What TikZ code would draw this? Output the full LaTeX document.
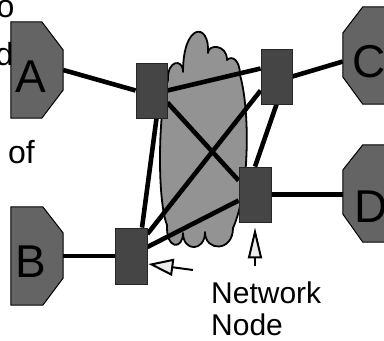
\documentclass[tikz,border=0pt]{standalone}
\usepackage{fontspec}
\setmainfont{Liberation Sans}
\usetikzlibrary{calc,arrows.meta}

\definecolor{hostgray}{HTML}{646464}
\definecolor{nodegray}{HTML}{454545}
\definecolor{cloudgray}{HTML}{939393}
\definecolor{headfill}{HTML}{ECECEC}

\pgfdeclarelayer{cloudlayer}
\pgfdeclarelayer{linklayer}
\pgfsetlayers{cloudlayer,linklayer,main}

\tikzset{
  hostbox/.style={rectangle, draw=none, inner sep=0pt, minimum width=52pt},
  hostshape/.style={fill=hostgray, draw=black, line width=1pt, line join=miter},
  hostletter/.style={inner sep=0pt, font=\fontsize{46}{46}\selectfont},
  netnode/.style={rectangle, fill=nodegray, draw=black!85, line width=0.8pt,
    minimum width=31pt, minimum height=55pt, inner sep=0pt},
  link/.style={line width=4.6pt},
  pointer/.style={line width=2pt, draw=black},
  frag/.style={inner sep=0pt, anchor=base west, font=\fontsize{32}{32}\selectfont},
  caption/.style={inner sep=0pt, anchor=base west, font=\fontsize{30}{32}\selectfont},
}

\begin{document}
\begin{tikzpicture}[x=1pt, y=-1pt]
\useasboundingbox (0,0) rectangle (384,341);
\clip (0,0) rectangle (384,341);

% cloud behind the network
\begin{pgfonlayer}{cloudlayer}
\filldraw[fill=cloudgray, draw=black, line width=1.8pt, line join=round]
  (168,80) .. controls (167,60) and (183,58) .. (183,72)
  .. controls (183,22) and (210,22) .. (208,53)
  .. controls (208,44) and (227,44) .. (227,60)
  .. controls (232,55) and (240,60) .. (240,75)
  .. controls (250,110) and (250,190) .. (233,228)
  .. controls (233,252) and (205,252) .. (205,232)
  .. controls (205,252) and (183,252) .. (183,233)
  .. controls (183,250) and (166,250) .. (167,225)
  .. controls (157,200) and (158,110) .. (168,80) -- cycle;
\end{pgfonlayer}

% hosts
\node[hostbox, minimum height=96pt] (A) at (37,70) {};
\node[hostbox, minimum height=98pt] (B) at (37,256) {};
\node[hostbox, minimum height=97pt] (C) at (369,55.5) {};
\node[hostbox, minimum height=97pt] (D) at (369,193.5) {};

\filldraw[hostshape] (A.north west) -- ($(A.north west)+(31,0)$) -- ($(A.east)+(0,-20)$)
  -- ($(A.east)+(0,20)$) -- ($(A.south west)+(31,0)$) -- (A.south west) -- cycle;
\filldraw[hostshape] (B.north west) -- ($(B.north west)+(32,0)$) -- ($(B.east)+(0,-23)$)
  -- ($(B.east)+(0,22)$) -- ($(B.south west)+(32,0)$) -- (B.south west) -- cycle;
\filldraw[hostshape] (C.north east) -- ($(C.north west)+(20,0)$) -- ($(C.west)+(0,-22.5)$)
  -- ($(C.west)+(0,21.5)$) -- ($(C.south west)+(20,0)$) -- (C.south east) -- cycle;
\filldraw[hostshape] (D.north east) -- ($(D.north west)+(20,0)$) -- ($(D.west)+(0,-23.5)$)
  -- ($(D.west)+(0,20.5)$) -- ($(D.south west)+(20,0)$) -- (D.south east) -- cycle;

\node[hostletter] (Aname) at ($(A)+(-6,6.5)$) {A};
\node[hostletter] (Bname) at ($(B)+(-6,5.5)$) {B};
\node[hostletter] (Cname) at ($(C)+(0,6)$) {C};
\node[hostletter] (Dname) at ($(D)+(2,13)$) {D};

% network nodes
\node[netnode] (N1) at (151.5,90.5) {};
\node[netnode] (N2) at (276.5,76.5) {};
\node[netnode, minimum width=32pt] (N3) at (255,194.5) {};
\node[netnode, minimum width=32pt, minimum height=56pt] (N4) at (131,256) {};

% links
\begin{pgfonlayer}{linklayer}
\draw[link] (A.east) -- (N1.west);
\draw[link] (N1.east) -- ($(N2.west)+(0,-8)$);
\draw[link] (N2.east) -- ($(C.west)+(0,6)$);
\draw[link] ($(N1.east)+(0,12)$) -- ($(N3.west)+(0,-14)$);
\draw[link] ($(N2.west)+(0,14)$) -- ($(N4.east)+(0,-22)$);
\draw[link] (N2.south) -- (N3.north);
\draw[link] ($(N1.south)+(5,0)$) -- ($(N4.north)+(11,0)$);
\draw[link] ($(N3.west)+(0,6)$) -- ($(N4.east)+(0,-9)$);
\draw[link] (N3.east) -- (N3.east -| D.west);
\draw[link] (N4.west) -- (N4.west -| B.east);
\end{pgfonlayer}

% pointers to the network nodes
\coordinate (tailN3) at (255,266);
\coordinate (tailN4) at (193,270);
\draw[pointer, -{Triangle[length=31pt, width=14pt, fill=headfill]}]
  (tailN3) -- ($(N3.south)+(0,5)$);
\draw[pointer, -{Triangle[length=25pt, width=17pt, fill=headfill]}]
  (tailN4) -- ($(N4.east)+(1,8)$);

\node[caption] (cap1) at (211,303) {Network};
\node[caption] (cap2) at (211,335) {Node};

% text running in from the left
\node[frag] (f1) at (-3.6,17) {o};
\node[frag] (f2) at (-4.7,65) {d};
\node[frag] (f3) at (8,163) {of};
\end{tikzpicture}
\end{document}
